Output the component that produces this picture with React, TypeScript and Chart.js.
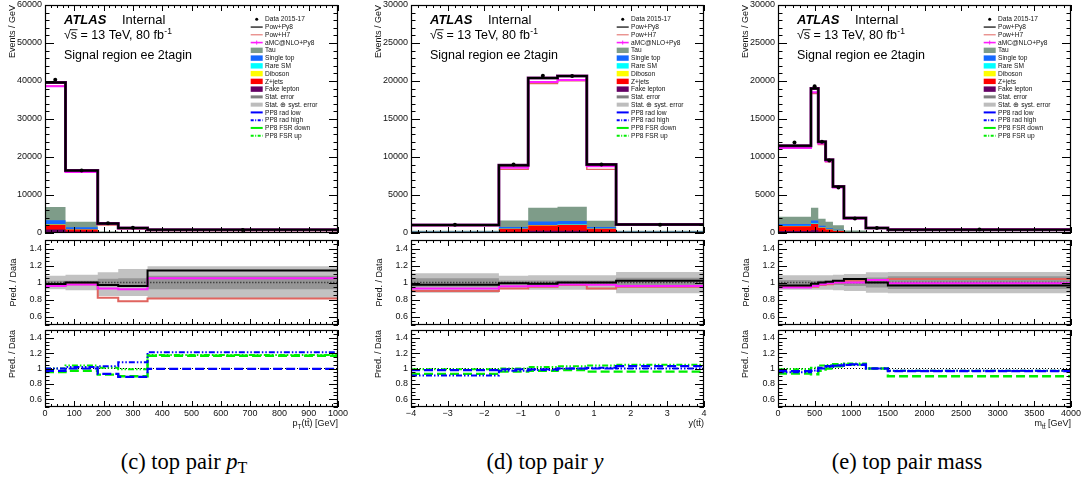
import React, { useEffect, useRef } from 'react';
import { Chart, registerables } from 'chart.js';

Chart.register(...registerables);

const SANS = '"Liberation Sans", Arial, Helvetica, sans-serif';

// ---------- top pair pT ----------
const ptEdges = [0, 70, 180, 250, 350, 1000];
const ptData = [40300, 16450, 2550, 1380, 760];
const ptPowPy8 = [39600, 16450, 2475, 1325, 867];
const ptPowH7 = [38700, 16120, 2090, 1076, 616];
const ptAmc = [38600, 16040, 2370, 1270, 798];
const ptFake = [900, 400, 80, 40, 20];
const ptZjets = [1300, 500, 60, 30, 15];
const ptDiboson = [30, 15, 5, 3, 2];
const ptRareSM = [40, 20, 5, 3, 2];
const ptSingleTop = [1100, 600, 80, 40, 20];
const ptTau = [3500, 1400, 150, 80, 40];
const ptStatErr = [0.02, 0.02, 0.045, 0.05, 0.08];
const ptTotUp = [0.08, 0.09, 0.12, 0.16, 0.19];
const ptTotDown = [0.08, 0.09, 0.16, 0.16, 0.185];
const ptRadLow = [0.97, 1.0, 0.93, 0.89, 0.995];
const ptRadHigh = [1.0, 1.02, 1.03, 1.08, 1.21];
const ptFsrDown = [0.955, 0.97, 0.92, 0.9, 1.165];
const ptFsrUp = [1.0, 1.04, 1.01, 0.99, 1.175];

// ---------- top pair rapidity ----------
const yEdges = [-4, -1.6, -0.8, 0, 0.8, 1.6, 4];
const yData = [1080, 9000, 20700, 20650, 9000, 1080];
const yPowPy8 = [1053, 8910, 20390, 20650, 9000, 1102];
const yPowH7 = [972, 8370, 19665, 20030, 8370, 1026];
const yAmc = [1004, 8595, 19870, 20134, 8775, 1037];
const yFake = [40, 150, 300, 300, 150, 40];
const yZjets = [80, 400, 700, 750, 400, 80];
const yDiboson = [5, 15, 30, 30, 15, 5];
const yRareSM = [5, 15, 30, 30, 15, 5];
const ySingleTop = [40, 200, 450, 480, 220, 40];
const yTau = [120, 850, 1800, 1850, 800, 120];
const yStatErr = [0.05, 0.025, 0.025, 0.025, 0.025, 0.055];
const yTotUp = [0.11, 0.08, 0.085, 0.085, 0.085, 0.125];
const yTotDown = [0.12, 0.08, 0.085, 0.085, 0.085, 0.125];
const yRadLow = [0.98, 0.99, 0.99, 1.0, 1.0, 1.03];
const yRadHigh = [0.91, 0.97, 0.98, 1.0, 1.01, 1.0];
const yFsrDown = [0.93, 0.96, 0.97, 0.98, 0.96, 0.96];
const yFsrUp = [0.99, 1.0, 1.02, 1.03, 1.04, 1.05];

// ---------- top pair invariant mass ----------
const mEdges = [0, 450, 550, 650, 750, 900, 1200, 1500, 4000];
const mData = [11900, 19300, 12000, 9550, 6000, 1900, 650, 450];
const mPowPy8 = [11484, 19011, 12000, 9646, 6120, 1976, 650, 434];
const mPowH7 = [11305, 18335, 11640, 9359, 6000, 1938, 670, 468];
const mAmc = [11186, 18528, 11760, 9455, 6000, 1900, 670, 446];
const mFake = [250, 350, 200, 100, 60, 20, 8, 3];
const mZjets = [650, 850, 500, 350, 240, 60, 20, 8];
const mDiboson = [20, 30, 20, 15, 10, 3, 1, 0.5];
const mRareSM = [20, 30, 20, 15, 10, 3, 1, 0.5];
const mSingleTop = [250, 400, 200, 150, 100, 30, 10, 3];
const mTau = [950, 1650, 950, 850, 600, 200, 80, 30];
const mStatErr = [0.03, 0.02, 0.025, 0.025, 0.03, 0.04, 0.06, 0.075];
const mTotUp = [0.085, 0.085, 0.085, 0.085, 0.09, 0.1, 0.12, 0.125];
const mTotDown = [0.085, 0.085, 0.085, 0.085, 0.09, 0.1, 0.12, 0.125];
const mRadLow = [0.965, 0.97, 1.01, 1.03, 1.04, 1.055, 1.0, 0.965];
const mRadHigh = [0.95, 0.975, 1.0, 1.02, 1.035, 1.045, 1.0, 0.97];
const mFsrDown = [0.935, 0.925, 0.97, 1.0, 1.03, 1.05, 1.0, 0.9];
const mFsrUp = [0.99, 1.01, 1.04, 1.045, 1.06, 1.065, 1.0, 0.97];

const COL = {
  h7: '#e0645f',
  amc: '#ff1cff',
  tau: '#7e9c89',
  stop: '#1469ff',
  rare: '#00ffff',
  dib: '#ffff00',
  zj: '#ff0000',
  fake: '#640064',
  stat: '#969696',
  syst: '#c2c2c2',
  blue: '#0000ff',
  green: '#00ee00',
};
const BKG_COLORS = [COL.fake, COL.zj, COL.dib, COL.rare, COL.stop, COL.tau];
const DASH_LONG = [9, 4];
const DASH_DOTDOT = [6, 2, 1.5, 2, 1.5, 2];

// frame geometry of the three columns
const PANEL_LEFT = [45, 411, 778];
const FRAME_W = 293;
const FRAMES = {
  main: { top: 5, bottom: 233 },
  r1: { top: 240, bottom: 325 },
  r2: { top: 330, bottom: 407 },
};

// text segment: optional sub/superscript, optional bar over its last character
type Seg = { t: string; mode?: 'sub' | 'sup'; barLast?: boolean };
type Lbl = { v: number; t: string };

interface Deco {
  xMajor: number[];
  xMinor: number[];
  yMajor: number[];
  yMinor: number[];
  yLabels: Lbl[];
  xLabels?: Lbl[];
  yTitle: string;
  yTitleTop: boolean;
  xTitle?: Seg[];
  header?: boolean;
}

interface PadSpec {
  key: string;
  left: number;
  top: number;
  w: number;
  h: number;
  padding: { left: number; top: number; right: number; bottom: number };
  xMin: number;
  xMax: number;
  yMin: number;
  yMax: number;
  datasets: any[];
  deco: Deco;
}

function range(min: number, max: number, step: number): number[] {
  const out: number[] = [];
  const n = Math.round((max - min) / step);
  for (let i = 0; i <= n; i++) out.push(+(min + i * step).toFixed(6));
  return out;
}

function steps(edges: number[], vals: number[]) {
  const pts: { x: number; y: number }[] = [];
  vals.forEach((v, i) => {
    pts.push({ x: edges[i], y: v }, { x: edges[i + 1], y: v });
  });
  return pts;
}

function histLine(edges: number[], vals: number[], color: string, width: number, order: number, dash: number[] = []) {
  return {
    data: steps(edges, vals),
    borderColor: color,
    borderWidth: width,
    borderDash: dash,
    borderJoinStyle: 'miter',
    borderCapStyle: 'butt',
    pointRadius: 0,
    fill: false,
    order,
  };
}

function histArea(edges: number[], vals: number[], color: string, order: number, fill: any) {
  return {
    data: steps(edges, vals),
    borderColor: 'rgba(0,0,0,0)',
    borderWidth: 0,
    backgroundColor: color,
    pointRadius: 0,
    fill,
    order,
  };
}

function drawSegs(ctx: CanvasRenderingContext2D, segs: Seg[], xRight: number, yBase: number, size: number) {
  const sizeOf = (s: Seg) => (s.mode ? size * 0.72 : size);
  const fontOf = (s: Seg) => `${sizeOf(s)}px ${SANS}`;
  let total = 0;
  for (const s of segs) {
    ctx.font = fontOf(s);
    total += ctx.measureText(s.t).width;
  }
  let x = xRight - total;
  ctx.textAlign = 'left';
  ctx.textBaseline = 'alphabetic';
  for (const s of segs) {
    ctx.font = fontOf(s);
    const dy = s.mode === 'sub' ? size * 0.3 : s.mode === 'sup' ? -size * 0.4 : 0;
    ctx.fillText(s.t, x, yBase + dy);
    const w = ctx.measureText(s.t).width;
    if (s.barLast) {
      const lw = ctx.measureText(s.t.slice(-1)).width;
      const yb = yBase + dy - sizeOf(s) * 0.82;
      ctx.save();
      ctx.strokeStyle = ctx.fillStyle as string;
      ctx.lineWidth = 0.7;
      ctx.beginPath();
      ctx.moveTo(x + w - lw + 0.2, yb);
      ctx.lineTo(x + w - 0.2, yb);
      ctx.stroke();
      ctx.restore();
    }
    x += w;
  }
}

type LegendItem = { label: string; kind: 'dot' | 'line' | 'box'; color?: string; w?: number; dash?: number[]; tick?: boolean; h?: number };
const LEGEND: LegendItem[] = [
  { label: 'Data 2015-17', kind: 'dot' },
  { label: 'Pow+Py8', kind: 'line', color: '#000', w: 1.2 },
  { label: 'Pow+H7', kind: 'line', color: COL.h7, w: 1 },
  { label: 'aMC@NLO+Py8', kind: 'line', color: COL.amc, w: 1.6, tick: true },
  { label: 'Tau', kind: 'box', color: COL.tau },
  { label: 'Single top', kind: 'box', color: COL.stop },
  { label: 'Rare SM', kind: 'box', color: COL.rare },
  { label: 'Diboson', kind: 'box', color: COL.dib },
  { label: 'Z+jets', kind: 'box', color: COL.zj },
  { label: 'Fake lepton', kind: 'box', color: COL.fake },
  { label: 'Stat. error', kind: 'box', color: '#7f7f7f', h: 3 },
  { label: 'Stat. \u2295 syst. error', kind: 'box', color: '#bdbdbd', h: 4 },
  { label: 'PP8 rad low', kind: 'line', color: COL.blue, w: 2 },
  { label: 'PP8 rad high', kind: 'line', color: COL.blue, w: 2, dash: [3, 1.5, 1, 1.5] },
  { label: 'PP8 FSR down', kind: 'line', color: COL.green, w: 2 },
  { label: 'PP8 FSR up', kind: 'line', color: COL.green, w: 2, dash: [3, 1.5, 1, 1.5] },
];

function drawHeader(ctx: CanvasRenderingContext2D, a: any) {
  const x0 = a.left + 19;
  ctx.fillStyle = '#000';
  ctx.strokeStyle = '#000';
  ctx.textAlign = 'left';
  ctx.textBaseline = 'alphabetic';
  ctx.font = `italic bold 13px ${SANS}`;
  ctx.fillText('ATLAS', x0, a.top + 19);
  ctx.font = `13px ${SANS}`;
  ctx.fillText('Internal', a.left + 77, a.top + 19);

  ctx.font = `12.5px ${SANS}`;
  const yb = a.top + 34.3;
  ctx.fillText('\u221A', x0, yb);
  const wr = ctx.measureText('\u221A').width;
  ctx.fillText('s', x0 + wr, yb);
  const ws = ctx.measureText('s').width;
  ctx.lineWidth = 0.9;
  ctx.beginPath();
  ctx.moveTo(x0 + wr - 0.8, yb - 9.6);
  ctx.lineTo(x0 + wr + ws + 0.4, yb - 9.6);
  ctx.stroke();
  let cx = x0 + wr + ws;
  const rest = ' = 13 TeV, 80 fb';
  ctx.fillText(rest, cx, yb);
  cx += ctx.measureText(rest).width;
  ctx.font = `8.5px ${SANS}`;
  ctx.fillText('-1', cx + 0.5, yb - 5.5);
  ctx.font = `12.5px ${SANS}`;
  ctx.fillText('Signal region ee 2tagin', x0, a.top + 54.3);

  // legend
  const sx0 = a.right - 87.3;
  const sx1 = a.right - 75.3;
  ctx.font = `6.6px ${SANS}`;
  LEGEND.forEach((it, i) => {
    const ry = a.top + 14.3 + i * 7.76;
    ctx.save();
    if (it.kind === 'dot') {
      ctx.fillStyle = '#000';
      ctx.beginPath();
      ctx.arc((sx0 + sx1) / 2, ry, 1.5, 0, Math.PI * 2);
      ctx.fill();
    } else if (it.kind === 'line') {
      ctx.strokeStyle = it.color!;
      ctx.lineWidth = it.w!;
      ctx.setLineDash(it.dash ?? []);
      ctx.beginPath();
      ctx.moveTo(sx0, ry);
      ctx.lineTo(sx1, ry);
      ctx.stroke();
      if (it.tick) {
        ctx.setLineDash([]);
        ctx.lineWidth = 1;
        ctx.beginPath();
        ctx.moveTo((sx0 + sx1) / 2, ry - 2);
        ctx.lineTo((sx0 + sx1) / 2, ry + 2);
        ctx.stroke();
      }
    } else {
      const h = it.h ?? 5.4;
      ctx.fillStyle = it.color!;
      ctx.fillRect(sx0, ry - h / 2, sx1 - sx0, h);
    }
    ctx.restore();
    ctx.fillStyle = '#111';
    ctx.textAlign = 'left';
    ctx.textBaseline = 'middle';
    ctx.fillText(it.label, a.right - 73, ry + 0.3);
  });
}

function makeDecoPlugin(d: Deco) {
  return {
    id: 'rootFrame',
    afterDatasetsDraw(chart: any) {
      const { ctx, chartArea: a } = chart;
      const xs = chart.scales.x;
      const ys = chart.scales.y;
      ctx.save();
      ctx.strokeStyle = '#000';
      ctx.lineWidth = 1;
      ctx.setLineDash([]);
      ctx.beginPath();
      const yTick = (v: number, len: number) => {
        const p = Math.round(ys.getPixelForValue(v)) + 0.5;
        ctx.moveTo(a.left, p);
        ctx.lineTo(a.left + len, p);
        ctx.moveTo(a.right, p);
        ctx.lineTo(a.right - len, p);
      };
      const xTick = (v: number, len: number) => {
        const p = Math.round(xs.getPixelForValue(v)) + 0.5;
        ctx.moveTo(p, a.top);
        ctx.lineTo(p, a.top + len);
        ctx.moveTo(p, a.bottom);
        ctx.lineTo(p, a.bottom - len);
      };
      d.yMinor.forEach((v) => yTick(v, 4.5));
      d.yMajor.forEach((v) => yTick(v, 9));
      d.xMinor.forEach((v) => xTick(v, 3));
      d.xMajor.forEach((v) => xTick(v, 6));
      ctx.stroke();
      ctx.lineWidth = 1.2;
      ctx.strokeRect(a.left + 0.5, a.top + 0.5, a.right - a.left - 1, a.bottom - a.top - 1);

      ctx.fillStyle = '#111';
      ctx.font = `9px ${SANS}`;
      ctx.textAlign = 'right';
      ctx.textBaseline = 'middle';
      d.yLabels.forEach((l) => ctx.fillText(l.t, a.left - 3, ys.getPixelForValue(l.v)));

      if (d.xLabels) {
        ctx.textAlign = 'center';
        ctx.textBaseline = 'alphabetic';
        d.xLabels.forEach((l) => ctx.fillText(l.t, xs.getPixelForValue(l.v), a.bottom + 8.6));
      }
      if (d.xTitle) {
        drawSegs(ctx, d.xTitle, a.right, a.bottom + 19, 9);
      }

      // y-axis title, rotated
      ctx.save();
      ctx.font = `9px ${SANS}`;
      ctx.fillStyle = '#111';
      ctx.textBaseline = 'middle';
      if (d.yTitleTop) {
        ctx.translate(a.left - 32.5, a.top);
        ctx.rotate(-Math.PI / 2);
        ctx.textAlign = 'right';
      } else {
        ctx.translate(a.left - 31, (a.top + a.bottom) / 2);
        ctx.rotate(-Math.PI / 2);
        ctx.textAlign = 'center';
      }
      ctx.fillText(d.yTitle, 0, 0);
      ctx.restore();

      if (d.header) drawHeader(ctx, a);
      ctx.restore();
    },
  };
}

interface PanelSrc {
  col: number;
  edges: number[];
  data: number[];
  pp8: number[];
  h7: number[];
  amc: number[];
  bkg: number[][];
  stat: number[];
  totUp: number[];
  totDown: number[];
  radLow: number[];
  radHigh: number[];
  fsrDown: number[];
  fsrUp: number[];
  yMax: number;
  yStep: number;
  yMinorStep: number;
  xStep: number;
  xMinorStep: number;
  xFmt: (v: number) => string;
  xTitle: Seg[];
}

const PANELS: PanelSrc[] = [
  {
    col: 0, edges: ptEdges, data: ptData, pp8: ptPowPy8, h7: ptPowH7, amc: ptAmc,
    bkg: [ptFake, ptZjets, ptDiboson, ptRareSM, ptSingleTop, ptTau],
    stat: ptStatErr, totUp: ptTotUp, totDown: ptTotDown,
    radLow: ptRadLow, radHigh: ptRadHigh, fsrDown: ptFsrDown, fsrUp: ptFsrUp,
    yMax: 60000, yStep: 10000, yMinorStep: 2000, xStep: 100, xMinorStep: 20,
    xFmt: (v) => String(v),
    xTitle: [{ t: 'p' }, { t: 'T', mode: 'sub' }, { t: '(tt', barLast: true }, { t: ') [GeV]' }],
  },
  {
    col: 1, edges: yEdges, data: yData, pp8: yPowPy8, h7: yPowH7, amc: yAmc,
    bkg: [yFake, yZjets, yDiboson, yRareSM, ySingleTop, yTau],
    stat: yStatErr, totUp: yTotUp, totDown: yTotDown,
    radLow: yRadLow, radHigh: yRadHigh, fsrDown: yFsrDown, fsrUp: yFsrUp,
    yMax: 30000, yStep: 5000, yMinorStep: 1000, xStep: 1, xMinorStep: 0.2,
    xFmt: (v) => (v < 0 ? '\u2212' + Math.abs(v) : String(v)),
    xTitle: [{ t: 'y(tt', barLast: true }, { t: ')' }],
  },
  {
    col: 2, edges: mEdges, data: mData, pp8: mPowPy8, h7: mPowH7, amc: mAmc,
    bkg: [mFake, mZjets, mDiboson, mRareSM, mSingleTop, mTau],
    stat: mStatErr, totUp: mTotUp, totDown: mTotDown,
    radLow: mRadLow, radHigh: mRadHigh, fsrDown: mFsrDown, fsrUp: mFsrUp,
    yMax: 30000, yStep: 5000, yMinorStep: 1000, xStep: 500, xMinorStep: 100,
    xFmt: (v) => String(v),
    xTitle: [{ t: 'm' }, { t: 'tt', mode: 'sub', barLast: true }, { t: ' [GeV]' }],
  },
];

const RATIO_LABELS = [0.6, 0.8, 1, 1.2, 1.4];

function padGeom(col: number, kind: 'main' | 'r1' | 'r2') {
  const L = PANEL_LEFT[col];
  const fr = FRAMES[kind];
  const padB = kind === 'r2' ? 28 : 8;
  return {
    left: L - 46,
    top: fr.top - 8,
    w: FRAME_W + 46 + 16,
    h: fr.bottom - fr.top + 8 + padB,
    padding: { left: 46, top: 8, right: 16, bottom: padB },
  };
}

function buildPads(p: PanelSrc): PadSpec[] {
  const xMin = p.edges[0];
  const xMax = p.edges[p.edges.length - 1];
  const xMajor = range(xMin, xMax, p.xStep);
  const xMinor = range(xMin, xMax, p.xMinorStep);
  const centers = p.data.map((_, i) => (p.edges[i] + p.edges[i + 1]) / 2);

  // main distribution
  const main: any[] = [];
  main.push({
    data: centers.map((c, i) => ({ x: c, y: p.data[i] })),
    showLine: false, pointRadius: 2, pointBackgroundColor: '#000', pointBorderWidth: 0, fill: false, order: 0,
  });
  main.push(histLine(p.edges, p.pp8, '#000', 2, 1));
  main.push(histLine(p.edges, p.pp8, COL.fake, 3.0, 2));
  main.push(histLine(p.edges, p.amc, COL.amc, 2, 3));
  main.push(histLine(p.edges, p.h7, COL.h7, 1.4, 4));
  let acc = p.data.map(() => 0);
  p.bkg.forEach((b, k) => {
    acc = acc.map((a, i) => a + b[i]);
    main.push(histArea(p.edges, acc, BKG_COLORS[k], 10 + k, 'origin'));
  });

  // prediction / data with uncertainty bands
  const ratio = (arr: number[]) => arr.map((v, i) => v / p.data[i]);
  const r1: any[] = [];
  r1.push(histLine(p.edges, ratio(p.pp8), '#000', 2, 0));
  r1.push(histLine(p.edges, ratio(p.amc), COL.amc, 2, 1));
  r1.push(histLine(p.edges, ratio(p.h7), COL.h7, 2, 2));
  r1.push({ data: [{ x: xMin, y: 1 }, { x: xMax, y: 1 }], borderColor: '#444', borderWidth: 1.5, borderDash: [1.5, 1.5], pointRadius: 0, fill: false, order: 3 });
  r1.push(histArea(p.edges, p.stat.map((e) => 1 + e), COL.stat, 4, '+1'));
  r1.push(histArea(p.edges, p.stat.map((e) => 1 - e), 'rgba(0,0,0,0)', 4, false));
  r1.push(histArea(p.edges, p.totUp.map((e) => 1 + e), COL.syst, 6, '+1'));
  r1.push(histArea(p.edges, p.totDown.map((e) => 1 - e), 'rgba(0,0,0,0)', 6, false));

  // modelling variations / data
  const r2: any[] = [];
  r2.push(histLine(p.edges, p.radHigh, COL.blue, 2, 0, DASH_DOTDOT));
  r2.push(histLine(p.edges, p.radLow, COL.blue, 2.2, 1, DASH_LONG));
  r2.push(histLine(p.edges, p.fsrUp, COL.green, 2, 2, DASH_DOTDOT));
  r2.push(histLine(p.edges, p.fsrDown, COL.green, 2.4, 3, DASH_LONG));
  r2.push({ data: [{ x: xMin, y: 1 }, { x: xMax, y: 1 }], borderColor: '#000', borderWidth: 1, borderDash: [1, 2], pointRadius: 0, fill: false, order: 4 });

  const ratioMajor = RATIO_LABELS;
  const ratioMinor = range(0.5, 1.5, 0.05);
  const ratioLabels = RATIO_LABELS.map((v) => ({ v, t: String(v) }));

  const yMajor = range(0, p.yMax, p.yStep);
  return [
    {
      key: `m${p.col}`, ...padGeom(p.col, 'main'), xMin, xMax, yMin: 0, yMax: p.yMax, datasets: main,
      deco: {
        xMajor, xMinor, yMajor, yMinor: range(0, p.yMax, p.yMinorStep),
        yLabels: yMajor.map((v) => ({ v, t: String(v) })),
        yTitle: 'Events / GeV', yTitleTop: true, header: true,
      },
    },
    {
      key: `a${p.col}`, ...padGeom(p.col, 'r1'), xMin, xMax, yMin: 0.5, yMax: 1.5, datasets: r1,
      deco: { xMajor, xMinor, yMajor: ratioMajor, yMinor: ratioMinor, yLabels: ratioLabels, yTitle: 'Pred. / Data', yTitleTop: false },
    },
    {
      key: `b${p.col}`, ...padGeom(p.col, 'r2'), xMin, xMax, yMin: 0.5, yMax: 1.5, datasets: r2,
      deco: {
        xMajor, xMinor, yMajor: ratioMajor, yMinor: ratioMinor, yLabels: ratioLabels,
        xLabels: xMajor.map((v) => ({ v, t: p.xFmt(v) })),
        xTitle: p.xTitle, yTitle: 'Pred. / Data', yTitleTop: true,
      },
    },
  ];
}

const PADS: PadSpec[] = PANELS.flatMap(buildPads);

function Pad({ spec }: { spec: PadSpec }) {
  const ref = useRef<HTMLCanvasElement>(null);
  useEffect(() => {
    const chart = new Chart(ref.current as HTMLCanvasElement, {
      type: 'line',
      data: { datasets: spec.datasets },
      options: {
        animation: false,
        responsive: false,
        maintainAspectRatio: false,
        events: [],
        layout: { padding: spec.padding },
        scales: {
          x: { type: 'linear', min: spec.xMin, max: spec.xMax, display: false },
          y: { type: 'linear', min: spec.yMin, max: spec.yMax, display: false },
        },
        plugins: { legend: { display: false }, tooltip: { enabled: false } },
        elements: { line: { tension: 0 } },
      } as any,
      plugins: [makeDecoPlugin(spec.deco)],
    });
    return () => chart.destroy();
  }, [spec]);
  return (
    <canvas
      ref={ref}
      width={spec.w}
      height={spec.h}
      style={{ position: 'absolute', left: spec.left, top: spec.top, width: spec.w, height: spec.h }}
    />
  );
}

const CAPTION_STYLE: React.CSSProperties = {
  position: 'absolute',
  top: 449,
  transform: 'translateX(-50%)',
  font: '22.5px "Liberation Serif", "Times New Roman", serif',
  lineHeight: '26px',
  whiteSpace: 'nowrap',
  color: '#000',
};

export default function App() {
  return (
    <div style={{ position: 'absolute', left: 0, top: 0, width: 1083, height: 485, background: '#fff', overflow: 'hidden' }}>
      {PADS.map((s) => (
        <Pad key={s.key} spec={s} />
      ))}
      <div style={{ ...CAPTION_STYLE, left: 184 }}>
        (c) top pair <i>p</i>
        <sub style={{ fontSize: 16, verticalAlign: -4, lineHeight: 0 }}>T</sub>
      </div>
      <div style={{ ...CAPTION_STYLE, left: 545 }}>
        (d) top pair <i>y</i>
      </div>
      <div style={{ ...CAPTION_STYLE, left: 907 }}>(e) top pair mass</div>
    </div>
  );
}
